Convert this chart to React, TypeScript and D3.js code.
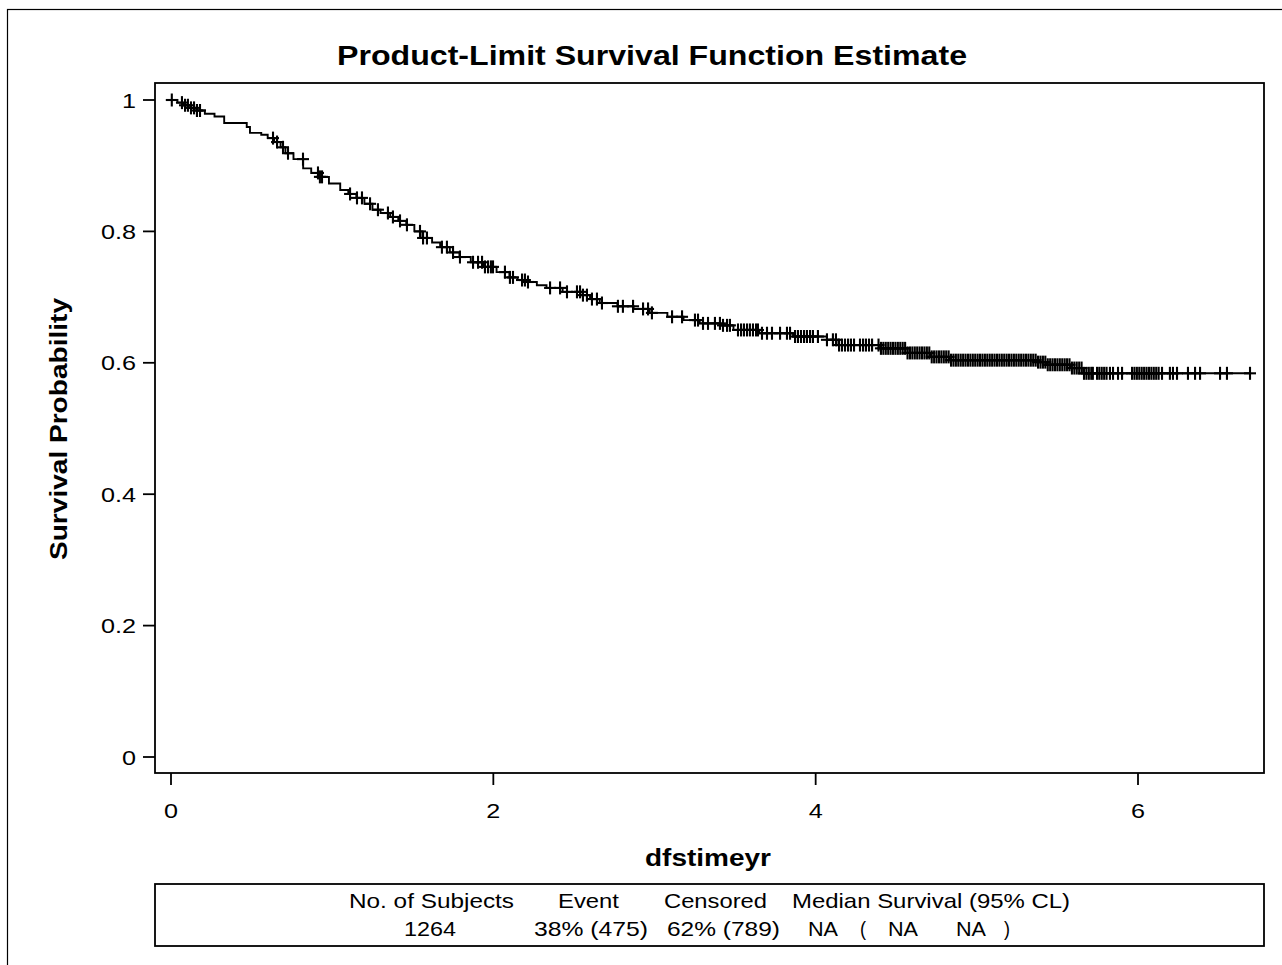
import React from "react";
import * as d3 from "d3";

// Kaplan-Meier estimate (time in years, survival)
const survTime = [
  0, 0.04, 0.08, 0.12, 0.16, 0.21, 0.27, 0.33, 0.47, 0.49, 0.56, 0.6, 0.64, 0.68, 0.71, 0.76,
  0.82, 0.87, 0.92, 0.98, 1.05, 1.1, 1.15, 1.2, 1.25, 1.3, 1.36, 1.41, 1.46, 1.51, 1.56, 1.62,
  1.67, 1.73, 1.79, 1.86, 1.94, 2.02, 2.1, 2.15, 2.21, 2.27, 2.33, 2.43, 2.54, 2.6, 2.66, 2.77,
  2.87, 2.97, 3.08, 3.18, 3.28, 3.41, 3.49, 3.65, 3.86, 4.07, 4.13, 4.4, 4.57, 4.71, 4.83, 5.37,
  5.43, 5.58, 5.66,
];
const survProb = [
  1, 0.996, 0.992, 0.988, 0.984, 0.979, 0.975, 0.965, 0.959, 0.95, 0.947, 0.942, 0.936, 0.928, 0.919, 0.91,
  0.896, 0.889, 0.883, 0.873, 0.863, 0.857, 0.851, 0.842, 0.833, 0.828, 0.822, 0.816, 0.81, 0.8, 0.79, 0.783,
  0.776, 0.768, 0.761, 0.753, 0.746, 0.738, 0.73, 0.726, 0.723, 0.718, 0.714, 0.708, 0.703, 0.697, 0.691, 0.686,
  0.682, 0.676, 0.67, 0.665, 0.66, 0.657, 0.65, 0.645, 0.64, 0.635, 0.627, 0.622, 0.615, 0.609, 0.604, 0.601,
  0.597, 0.592, 0.584,
];

// censored observations (+ marks)
const censorTimes = [
  0.005, 0.068, 0.087, 0.105, 0.124, 0.143, 0.161, 0.18,
  0.633, 0.658, 0.695, 0.726, 0.819, 0.912, 0.924, 0.937,
  1.111, 1.154, 1.185, 1.235, 1.284, 1.346, 1.377, 1.421, 1.464, 1.545, 1.564, 1.588,
  1.681, 1.712, 1.75, 1.793, 1.874, 1.905, 1.93, 1.948, 1.967, 1.985, 1.998,
  2.072, 2.103, 2.122, 2.178, 2.196, 2.215, 2.352, 2.414, 2.457, 2.519, 2.538, 2.556, 2.581,
  2.612, 2.643, 2.674, 2.773, 2.804, 2.867, 2.929, 2.96, 2.984,
  3.109, 3.171, 3.251, 3.27, 3.301, 3.332, 3.375, 3.406, 3.425, 3.45, 3.468,
  3.518, 3.537, 3.555, 3.574, 3.592, 3.611, 3.63, 3.642, 3.667, 3.698, 3.729, 3.779, 3.822, 3.841,
  3.872, 3.89, 3.909, 3.928, 3.946, 3.965, 3.983, 4.014, 4.07,
  4.107, 4.126, 4.145, 4.163, 4.182, 4.201, 4.219, 4.238, 4.275, 4.294, 4.312, 4.331, 4.35,
  4.39, 4.405, 4.42, 4.435, 4.45, 4.465, 4.48, 4.495, 4.51, 4.525, 4.54, 4.555, 4.57, 4.585,
  4.6, 4.615, 4.63, 4.645, 4.66, 4.675, 4.69, 4.705, 4.72, 4.735, 4.75, 4.765, 4.78, 4.795,
  4.81, 4.825, 4.84, 4.855, 4.87, 4.885, 4.9, 4.915, 4.93, 4.945, 4.96, 4.975, 4.99,
  5.005, 5.02, 5.035, 5.05, 5.065, 5.08, 5.095, 5.11, 5.125, 5.14, 5.155, 5.17, 5.185,
  5.2, 5.215, 5.23, 5.245, 5.26, 5.275, 5.29, 5.305, 5.32, 5.335, 5.35, 5.365, 5.38, 5.395,
  5.41, 5.425, 5.44, 5.455, 5.47, 5.485, 5.5, 5.515, 5.53, 5.545, 5.56, 5.575, 5.59,
  5.605, 5.62, 5.635, 5.65, 5.665, 5.68, 5.695, 5.71, 5.72,
  5.746, 5.76, 5.775, 5.79, 5.805, 5.826, 5.845, 5.876, 5.901,
  5.963, 5.978, 5.993, 6.008, 6.023, 6.038, 6.053, 6.068, 6.083, 6.098, 6.113, 6.128, 6.149,
  6.198, 6.217, 6.242, 6.31, 6.354, 6.385, 6.509, 6.552, 6.695,
];

const xTicks = [0, 2, 4, 6];
const yTicks = [0, 0.2, 0.4, 0.6, 0.8, 1];

const tableHeader = ["No. of Subjects", "Event", "Censored", "Median Survival (95% CL)"];
const tableRow = ["1264", "38% (475)", "62% (789)", "NA", "(", "NA", "NA", ")"];

const FONT = "'Liberation Sans', Arial, Helvetica, sans-serif";

export default function App() {
  const W = 1282;
  const H = 965;
  const box = { left: 155, top: 83, right: 1264, bottom: 773 };

  const x = d3.scaleLinear().domain([0, 6]).range([171, 1138]);
  const y = d3.scaleLinear().domain([0, 1]).range([757, 100]);

  const lastT = d3.max(censorTimes) as number;
  const pts: [number, number][] = survTime.map((t, i) => [t, survProb[i]]);
  pts.push([lastT, survProb[survProb.length - 1]]);

  const line = d3
    .line<[number, number]>()
    .x((d) => x(d[0]))
    .y((d) => y(d[1]))
    .curve(d3.curveStepAfter);

  const bis = d3.bisector((t: number) => t).right;
  const survAt = (t: number) => survProb[Math.max(0, bis(survTime, t) - 1)];

  const fmtY = (v: number) => (v === 0 || v === 1 ? String(v) : v.toFixed(1));

  // table layout (x start, width) per cell
  const headerPos = [
    [349, 165],
    [558, 61],
    [664, 103],
    [792, 278],
  ];
  const rowPos = [
    [404, 52],
    [534, 114],
    [667, 113],
    [808, 30],
    [860, 6],
    [888, 30],
    [956, 30],
    [1004, 6],
  ];

  return (
    <svg
      width={W}
      height={H}
      style={{ position: "absolute", left: 0, top: 0, background: "#fff" }}
      fontFamily={FONT}
    >
      <rect x={0} y={0} width={W} height={H} fill="#fff" />
      {/* outer frame */}
      <rect x={7.5} y={9.5} width={1400} height={1100} fill="none" stroke="#000" strokeWidth={1.2} />

      {/* title */}
      <text
        x={337}
        y={65}
        fontSize={27}
        fontWeight="bold"
        textLength={630}
        lengthAdjust="spacingAndGlyphs"
      >
        Product-Limit Survival Function Estimate
      </text>

      {/* survival curve */}
      <path d={line(pts) ?? ""} fill="none" stroke="#000" strokeWidth={1.9} />
      <g stroke="#000" strokeWidth={2.1}>
        {censorTimes.map((t, i) => {
          const cx = x(t);
          const cy = y(survAt(t));
          return (
            <g key={i}>
              <line x1={cx - 6} x2={cx + 6} y1={cy} y2={cy} />
              <line x1={cx} x2={cx} y1={cy - 6.5} y2={cy + 6.5} />
            </g>
          );
        })}
      </g>

      {/* plot frame */}
      <rect
        x={box.left}
        y={box.top}
        width={box.right - box.left}
        height={box.bottom - box.top}
        fill="none"
        stroke="#000"
        strokeWidth={1.8}
      />

      {/* y axis */}
      <g>
        {yTicks.map((v) => (
          <g key={v}>
            <line x1={box.left - 12} x2={box.left} y1={y(v)} y2={y(v)} stroke="#000" strokeWidth={1.8} />
            <text
              transform={`translate(136,${y(v) + 7.5}) scale(1.2,1)`}
              fontSize={21}
              textAnchor="end"
            >
              {fmtY(v)}
            </text>
          </g>
        ))}
      </g>

      {/* x axis */}
      <g>
        {xTicks.map((v) => (
          <g key={v}>
            <line x1={x(v)} x2={x(v)} y1={box.bottom} y2={box.bottom + 12} stroke="#000" strokeWidth={1.8} />
            <text
              transform={`translate(${x(v)},818) scale(1.2,1)`}
              fontSize={21}
              textAnchor="middle"
            >
              {v}
            </text>
          </g>
        ))}
      </g>

      {/* axis labels */}
      <text
        x={645}
        y={866}
        fontSize={23}
        fontWeight="bold"
        textLength={126}
        lengthAdjust="spacingAndGlyphs"
      >
        dfstimeyr
      </text>
      <text
        transform={`translate(67,560) rotate(-90)`}
        fontSize={23}
        fontWeight="bold"
        textLength={262}
        lengthAdjust="spacingAndGlyphs"
      >
        Survival Probability
      </text>

      {/* summary table */}
      <rect x={box.left} y={884} width={box.right - box.left} height={62} fill="none" stroke="#000" strokeWidth={1.8} />
      {tableHeader.map((s, i) => (
        <text
          key={s}
          x={headerPos[i][0]}
          y={908}
          fontSize={21}
          textLength={headerPos[i][1]}
          lengthAdjust="spacingAndGlyphs"
        >
          {s}
        </text>
      ))}
      {tableRow.map((s, i) => (
        <text
          key={i}
          x={rowPos[i][0]}
          y={936}
          fontSize={21}
          textLength={rowPos[i][1]}
          lengthAdjust="spacingAndGlyphs"
        >
          {s}
        </text>
      ))}
    </svg>
  );
}
